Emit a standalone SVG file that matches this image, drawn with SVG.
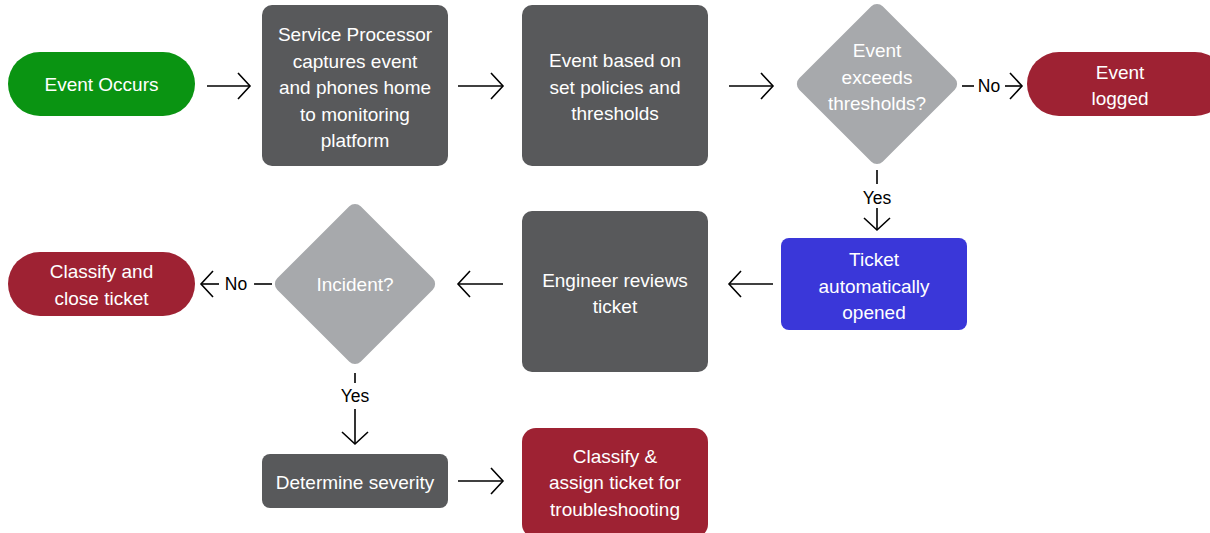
<svg xmlns="http://www.w3.org/2000/svg" width="1210" height="533" viewBox="0 0 1210 533">
<style>
.t{font-family:"Liberation Sans",Arial,sans-serif;font-size:19px;fill:#ffffff;text-anchor:middle}
.l{font-family:"Liberation Sans",Arial,sans-serif;font-size:17.5px;fill:#000000;text-anchor:middle}
.c{stroke:#000;stroke-width:1.6;fill:none}
.dark{fill:#58595b}
.dia{fill:#a7a9ac}
.red{fill:#9e2233}
</style>
<defs>
<marker id="ah" markerUnits="userSpaceOnUse" markerWidth="32" markerHeight="32" viewBox="-16 -16 32 32" refX="0" refY="0" orient="auto" overflow="visible">
<path d="M-12,-13 L0,0 L-12,13" fill="none" stroke="#000" stroke-width="1.6"/>
</marker>
</defs>
<rect width="1210" height="533" fill="#ffffff"/>
<g id="connectors">
<line class="c" x1="207" y1="86" x2="250" y2="86" marker-end="url(#ah)"/>
<line class="c" x1="458" y1="86" x2="503" y2="86" marker-end="url(#ah)"/>
<line class="c" x1="729" y1="86" x2="773" y2="86" marker-end="url(#ah)"/>
<line class="c" x1="962" y1="86" x2="974" y2="86"/>
<text class="l" x="989" y="92">No</text>
<line class="c" x1="1005" y1="86" x2="1022" y2="86" marker-end="url(#ah)"/>
<line class="c" x1="877" y1="170" x2="877" y2="184"/>
<text class="l" x="877" y="204">Yes</text>
<line class="c" x1="877" y1="208" x2="877" y2="230" marker-end="url(#ah)"/>
<line class="c" x1="773" y1="284" x2="729" y2="284" marker-end="url(#ah)"/>
<line class="c" x1="503" y1="284" x2="458" y2="284" marker-end="url(#ah)"/>
<line class="c" x1="272" y1="284" x2="254" y2="284"/>
<text class="l" x="236" y="290">No</text>
<line class="c" x1="219" y1="284" x2="201" y2="284" marker-end="url(#ah)"/>
<line class="c" x1="355" y1="373" x2="355" y2="383"/>
<text class="l" x="355" y="402">Yes</text>
<line class="c" x1="355" y1="409" x2="355" y2="444" marker-end="url(#ah)"/>
<line class="c" x1="458" y1="481" x2="503" y2="481" marker-end="url(#ah)"/>
</g>
<g id="event-occurs">
<rect x="8" y="52" width="187" height="64" rx="32" fill="#0a9412"/>
<text class="t" x="101.5" y="91">Event Occurs</text>
</g>
<g id="service-processor">
<rect class="dark" x="262" y="5" width="186" height="161" rx="10"/>
<text class="t" x="355" y="41">Service Processor</text>
<text class="t" x="355" y="67.5">captures event</text>
<text class="t" x="355" y="94">and phones home</text>
<text class="t" x="355" y="120.5">to monitoring</text>
<text class="t" x="355" y="147">platform</text>
</g>
<g id="event-based">
<rect class="dark" x="522" y="5" width="186" height="161" rx="10"/>
<text class="t" x="615" y="67">Event based on</text>
<text class="t" x="615" y="93.5">set policies and</text>
<text class="t" x="615" y="120">thresholds</text>
</g>
<g id="exceeds-thresholds">
<rect class="dia" x="-59" y="-59" width="118" height="118" rx="8" transform="translate(877,84) rotate(45)"/>
<text class="t" x="877" y="57">Event</text>
<text class="t" x="877" y="83.5">exceeds</text>
<text class="t" x="877" y="110">thresholds?</text>
</g>
<g id="event-logged">
<rect class="red" x="1027" y="52" width="200" height="64" rx="32"/>
<text class="t" x="1120" y="79">Event</text>
<text class="t" x="1120" y="105">logged</text>
</g>
<g id="ticket-opened">
<rect x="781" y="238" width="186" height="92" rx="8" fill="#3a37d9"/>
<text class="t" x="874" y="266">Ticket</text>
<text class="t" x="874" y="292.5">automatically</text>
<text class="t" x="874" y="319">opened</text>
</g>
<g id="engineer-reviews">
<rect class="dark" x="522" y="211" width="186" height="161" rx="10"/>
<text class="t" x="615" y="287">Engineer reviews</text>
<text class="t" x="615" y="313">ticket</text>
</g>
<g id="incident">
<rect class="dia" x="-59" y="-59" width="118" height="118" rx="8" transform="translate(355,284) rotate(45)"/>
<text class="t" x="355" y="291">Incident?</text>
</g>
<g id="classify-close">
<rect class="red" x="8" y="252" width="187" height="64" rx="32"/>
<text class="t" x="101.5" y="278">Classify and</text>
<text class="t" x="101.5" y="305">close ticket</text>
</g>
<g id="determine-severity">
<rect class="dark" x="262" y="454" width="186" height="54" rx="8"/>
<text class="t" x="355" y="488.5">Determine severity</text>
</g>
<g id="classify-assign">
<rect class="red" x="522" y="428" width="186" height="110" rx="14"/>
<text class="t" x="615" y="463">Classify &amp;</text>
<text class="t" x="615" y="489">assign ticket for</text>
<text class="t" x="615" y="515.5">troubleshooting</text>
</g>
</svg>
